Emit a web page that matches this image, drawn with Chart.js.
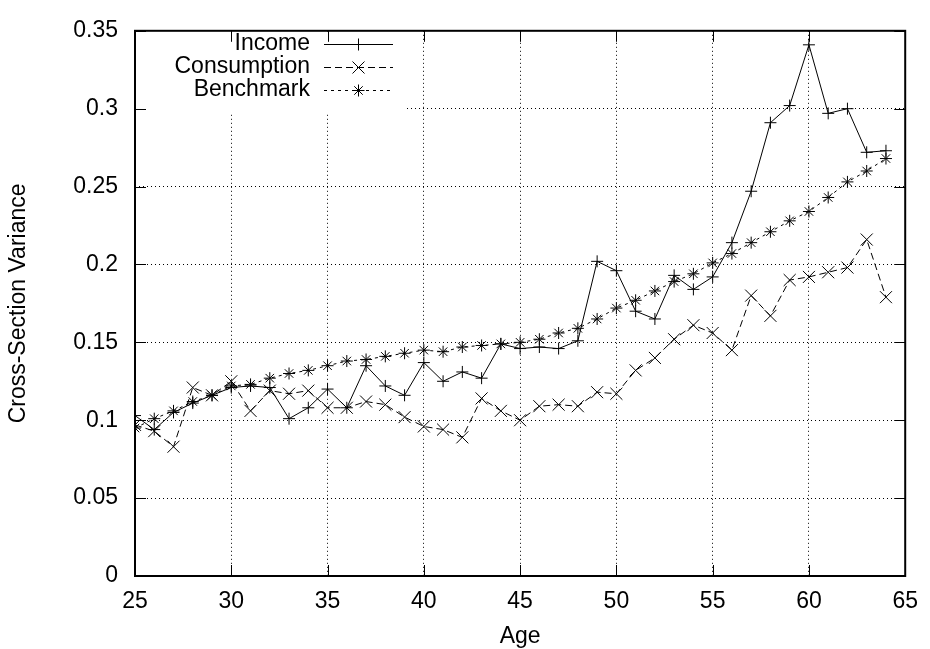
<!DOCTYPE html>
<html>
<head>
<meta charset="utf-8">
<script src="https://cdn.jsdelivr.net/npm/chart.js@4/dist/chart.umd.min.js"></script>
<style>
  html, body { margin: 0; padding: 0; background: #fff; }
  #wrap { width: 930px; height: 649px; position: relative; }
</style>
</head>
<body>
<div id="wrap"><canvas id="c"></canvas></div>
<script>
// data
const ages = [25, 26, 27, 28, 29, 30, 31, 32, 33, 34, 35, 36, 37, 38, 39, 40, 41, 42, 43, 44,
              45, 46, 47, 48, 49, 50, 51, 52, 53, 54, 55, 56, 57, 58, 59, 60, 61, 62, 63, 64];
const income = [0.103, 0.094, 0.105, 0.111, 0.116, 0.121, 0.122, 0.121, 0.101, 0.108,
                0.120, 0.108, 0.135, 0.122, 0.116, 0.137, 0.125, 0.131, 0.127, 0.149,
                0.146, 0.147, 0.146, 0.151, 0.202, 0.196, 0.170, 0.165, 0.193, 0.184,
                0.192, 0.214, 0.247, 0.291, 0.302, 0.341, 0.297, 0.300, 0.272, 0.273];
const consumption = [0.097, 0.093, 0.083, 0.121, 0.116, 0.125, 0.106, 0.119, 0.117, 0.119,
                     0.108, 0.108, 0.112, 0.110, 0.102, 0.096, 0.094, 0.089, 0.114, 0.106,
                     0.100, 0.109, 0.110, 0.109, 0.118, 0.117, 0.132, 0.140, 0.152, 0.161,
                     0.156, 0.145, 0.180, 0.167, 0.190, 0.192, 0.195, 0.198, 0.216, 0.179];
const benchmark = [0.095, 0.101, 0.106, 0.112, 0.116, 0.122, 0.123, 0.127, 0.130, 0.132,
                   0.135, 0.138, 0.139, 0.141, 0.143, 0.145, 0.144, 0.147, 0.148, 0.149,
                   0.150, 0.152, 0.156, 0.159, 0.165, 0.172, 0.177, 0.183, 0.189, 0.194,
                   0.201, 0.207, 0.214, 0.221, 0.228, 0.234, 0.243, 0.253, 0.260, 0.268];
const seriesNames = ['Income', 'Consumption', 'Benchmark'];

const FONT = "'Liberation Sans', Arial, Helvetica, sans-serif";
const styles = [
  { dash: [], point: 'cross', r: 6 },
  { dash: [7, 4], point: 'crossRot', r: 8.5 },
  { dash: [3, 4], point: 'star', r: 6 }
];

function pts(vals) {
  return ages.map((a, i) => ({ x: a, y: vals[i] }));
}

// gnuplot-like frame, inward ticks and key
const gnuFrame = {
  id: 'gnuFrame',
  beforeDatasetsDraw(chart) {
    const ctx = chart.ctx;
    ctx.save();
    ctx.fillStyle = '#fff';
    ctx.fillRect(chart.chartArea.left + 1, chart.chartArea.top + 1, 270, 82);
    ctx.restore();
  },
  afterDatasetsDraw(chart) {
    const ctx = chart.ctx;
    const a = chart.chartArea;
    const xs = chart.scales.x, ys = chart.scales.y;
    ctx.save();
    ctx.strokeStyle = '#000';
    ctx.lineWidth = 1;
    const tl = 11;
    ctx.beginPath();
    xs.ticks.forEach(t => {
      const px = Math.round(xs.getPixelForValue(t.value)) + 0.5;
      ctx.moveTo(px, a.bottom); ctx.lineTo(px, a.bottom - tl);
      ctx.moveTo(px, a.top); ctx.lineTo(px, a.top + tl);
    });
    ys.ticks.forEach(t => {
      const py = Math.round(ys.getPixelForValue(t.value)) + 0.5;
      ctx.moveTo(a.left, py); ctx.lineTo(a.left + tl, py);
      ctx.moveTo(a.right, py); ctx.lineTo(a.right - tl, py);
    });
    ctx.stroke();
    ctx.lineWidth = 2;
    ctx.strokeRect(a.left, a.top, a.right - a.left, a.bottom - a.top);

    // key
    ctx.font = '23px ' + FONT;
    ctx.fillStyle = '#000';
    ctx.textAlign = 'right';
    ctx.textBaseline = 'middle';
    const rowY = [44, 67, 90];
    seriesNames.forEach((name, i) => {
      const y = rowY[i];
      ctx.fillText(name, 310, y);
      ctx.lineWidth = 1;
      ctx.setLineDash(styles[i].dash);
      ctx.beginPath();
      ctx.moveTo(324, y + 0.5); ctx.lineTo(393, y + 0.5);
      ctx.stroke();
      ctx.setLineDash([]);
      Chart.helpers.drawPoint(ctx, { pointStyle: styles[i].point, radius: styles[i].r, rotation: 0, borderWidth: 1 }, 358.5, y + 0.5);
    });
    ctx.restore();
  }
};

const datasets = [income, consumption, benchmark].map((vals, i) => ({
  label: seriesNames[i],
  data: pts(vals),
  borderColor: '#000',
  backgroundColor: '#000',
  borderWidth: 1,
  borderDash: styles[i].dash,
  pointStyle: styles[i].point,
  pointRadius: styles[i].r,
  pointBorderWidth: 1,
  pointBorderColor: '#000',
  tension: 0,
  fill: false
}));

new Chart(document.getElementById('c'), {
  type: 'line',
  data: { datasets: datasets },
  options: {
    responsive: true,
    maintainAspectRatio: false,
    animation: false,
    layout: { padding: { top: 21, right: 19, left: 0, bottom: 0 } },
    plugins: { legend: { display: false }, tooltip: { enabled: false } },
    scales: {
      x: {
        type: 'linear',
        min: 25, max: 65,
        ticks: { stepSize: 5, color: '#000', padding: 12, font: { family: FONT, size: 23 } },
        grid: { color: '#000', lineWidth: 1, drawTicks: false },
        border: { display: false, dash: [1, 3] },
        title: { display: true, text: 'Age', color: '#000', font: { family: FONT, size: 23, lineHeight: 1 }, padding: { top: 0, bottom: 1 } },
        afterFit: s => { s.height = 73; }
      },
      y: {
        min: 0, max: 0.35,
        ticks: { stepSize: 0.05, color: '#000', padding: 17, font: { family: FONT, size: 23 },
                 callback: v => String(+v.toFixed(2)) },
        grid: { color: '#000', lineWidth: 1, drawTicks: false },
        border: { display: false, dash: [1, 3] },
        title: { display: true, text: 'Cross-Section Variance', color: '#000', font: { family: FONT, size: 23 }, padding: { top: 5, bottom: 0 } },
        afterFit: s => { s.width = 135; }
      }
    }
  },
  plugins: [gnuFrame]
});
</script>
</body>
</html>
